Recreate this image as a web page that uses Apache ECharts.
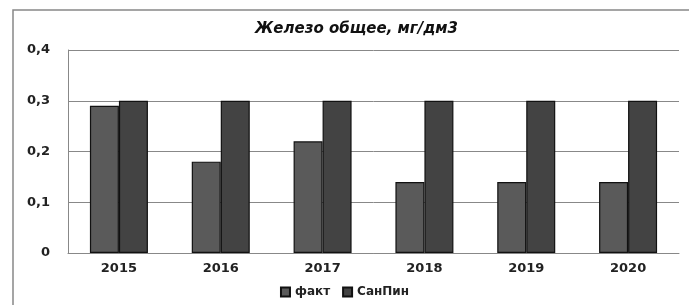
<!DOCTYPE html>
<html>
<head>
<meta charset="utf-8">
<script src="https://cdn.jsdelivr.net/npm/echarts@6/dist/echarts.min.js"></script>
<style>
  html, body { margin: 0; padding: 0; background: #fff; }
  #chart { width: 689px; height: 305px; }
</style>
</head>
<body>
<div id="chart"></div>
<script>
// данные
var years = ['2015', '2016', '2017', '2018', '2019', '2020'];
var fact = [0.29, 0.18, 0.22, 0.14, 0.14, 0.14];
var sanpin = [0.3, 0.3, 0.3, 0.3, 0.3, 0.3];
var yTicks = [0, 0.1, 0.2, 0.3, 0.4];

var chart = echarts.init(document.getElementById('chart'));
var option = {
  animation: false,
  backgroundColor: '#fff',
  textStyle: { fontFamily: 'DejaVu Sans' },
  title: {
    text: 'Железо общее, мг/дм3',
    left: 250,
    top: 17,
    textStyle: { fontSize: 15, fontWeight: 'bold', fontStyle: 'italic', color: '#111' }
  },
  // внешняя рамка
  graphic: [{
    type: 'polyline',
    shape: { points: [[13, 310], [13, 10], [700, 10]] },
    style: { stroke: '#888', lineWidth: 1.5, fill: null }
  }],
  legend: {
    bottom: 2,
    left: 'center',
    icon: 'rect',
    itemWidth: 9,
    itemHeight: 9,
    itemGap: 12,
    textStyle: { fontSize: 12, fontWeight: 'bold', color: '#222' },
    data: ['факт', 'СанПин']
  },
  grid: { left: 68, right: 10, top: 50, bottom: 52 },
  xAxis: {
    type: 'category',
    data: years,
    axisTick: { show: false },
    axisLine: { lineStyle: { color: '#888', width: 1 } },
    axisLabel: { fontSize: 13, fontWeight: 'bold', color: '#222', margin: 9 }
  },
  yAxis: {
    type: 'value',
    min: yTicks[0],
    max: yTicks[yTicks.length - 1],
    interval: 0.1,
    axisLine: { show: true, lineStyle: { color: '#888', width: 1 } },
    axisTick: { show: false },
    splitLine: { lineStyle: { color: '#888', width: 1 } },
    axisLabel: {
      fontSize: 13, fontWeight: 'bold', color: '#222', margin: 18,
      formatter: function (v) { return String(Math.round(v * 10) / 10).replace('.', ','); }
    }
  },
  series: [{
    name: 'факт',
    type: 'bar',
    data: fact,
    barWidth: 29,
    barGap: '0%',
    itemStyle: { color: '#5a5a5a', borderColor: '#111', borderWidth: 1.2 }
  }, {
    name: 'СанПин',
    type: 'bar',
    data: sanpin,
    barWidth: 29,
    itemStyle: { color: '#434343', borderColor: '#111', borderWidth: 1.2 }
  }]
};
chart.setOption(option);
</script>
</body>
</html>
